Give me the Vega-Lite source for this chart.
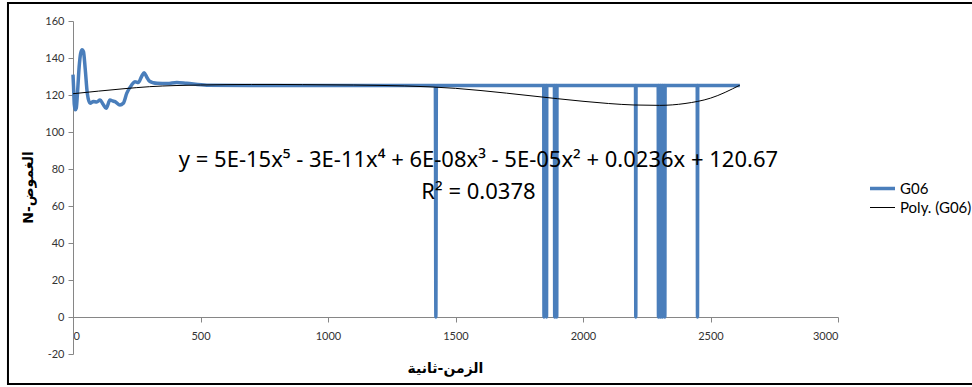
{
  "$schema": "https://vega.github.io/schema/vega-lite/v6.json",
  "width": 765,
  "height": 333,
  "autosize": {"type": "none"},
  "padding": {"left": 73, "top": 21, "right": 134, "bottom": 33},
  "background": "white",
  "config": {
    "view": {"stroke": null},
    "font": "Lato",
    "axis": {"grid": false, "domainColor": "#868686", "tickColor": "#868686", "labelColor": "#333333", "labelFont": "Lato", "labelFontSize": 11, "labelOverlap": false, "labelExpr": "toString(datum.value)", "titleColor": "black", "titleFont": "DejaVu Sans", "titleFontWeight": "bold", "titleFontSize": 14}
  },
  "datasets": {
    "g06": [
      {"t": 0, "v": 131}, {"t": 2, "v": 125}, {"t": 5, "v": 115}, {"t": 9, "v": 112}, {"t": 13, "v": 113},
      {"t": 18, "v": 122}, {"t": 24, "v": 135}, {"t": 30, "v": 142.5}, {"t": 36, "v": 144.5}, {"t": 41, "v": 143.5},
      {"t": 48, "v": 134}, {"t": 56, "v": 121}, {"t": 67, "v": 115.5}, {"t": 80, "v": 116.5}, {"t": 93, "v": 116.2},
      {"t": 106, "v": 117.3}, {"t": 118, "v": 115}, {"t": 130, "v": 112.8}, {"t": 145, "v": 117.3}, {"t": 155, "v": 116.8},
      {"t": 165, "v": 116.4}, {"t": 184, "v": 114.6}, {"t": 197, "v": 115.5}, {"t": 211, "v": 121}, {"t": 230, "v": 125.4},
      {"t": 243, "v": 127.2}, {"t": 256, "v": 126.7}, {"t": 270, "v": 130.3}, {"t": 279, "v": 132}, {"t": 290, "v": 129.5},
      {"t": 300, "v": 127.5}, {"t": 315, "v": 126.6}, {"t": 330, "v": 126.3}, {"t": 370, "v": 126.2}, {"t": 407, "v": 126.8},
      {"t": 446, "v": 126.3}, {"t": 525, "v": 125.3}, {"t": 700, "v": 125.1}, {"t": 1000, "v": 125.2},
      {"t": 1421, "v": 125.2}, {"t": 1423, "v": 0}, {"t": 1425, "v": 125.2},
      {"t": 1846, "v": 125.2}, {"t": 1847, "v": 0}, {"t": 1848, "v": 125.2},
      {"t": 1856, "v": 125.2}, {"t": 1857, "v": 0}, {"t": 1858, "v": 125.2},
      {"t": 1888, "v": 125.2}, {"t": 1889, "v": 0}, {"t": 1890, "v": 125.2},
      {"t": 1896, "v": 125.2}, {"t": 1897, "v": 0}, {"t": 1898, "v": 125.2},
      {"t": 2206, "v": 125.2}, {"t": 2207, "v": 0}, {"t": 2208, "v": 125.2},
      {"t": 2295, "v": 125.2}, {"t": 2296, "v": 0}, {"t": 2297, "v": 125.2},
      {"t": 2303, "v": 125.2}, {"t": 2304, "v": 0}, {"t": 2305, "v": 125.2},
      {"t": 2311, "v": 125.2}, {"t": 2312, "v": 0}, {"t": 2313, "v": 125.2},
      {"t": 2320, "v": 125.2}, {"t": 2321, "v": 0}, {"t": 2322, "v": 125.2},
      {"t": 2448, "v": 125.2}, {"t": 2449, "v": 0}, {"t": 2450, "v": 125.2},
      {"t": 2615, "v": 125.2}
    ],
    "poly": [
      {"t": 0, "v": 120.7}, {"t": 100, "v": 122.1}, {"t": 200, "v": 123.4}, {"t": 300, "v": 124.5}, {"t": 400, "v": 125.1},
      {"t": 500, "v": 125.4}, {"t": 600, "v": 125.6}, {"t": 700, "v": 125.7}, {"t": 800, "v": 125.7}, {"t": 900, "v": 125.6},
      {"t": 1000, "v": 125.5}, {"t": 1100, "v": 125.4}, {"t": 1200, "v": 125.2}, {"t": 1300, "v": 124.9}, {"t": 1400, "v": 124.4},
      {"t": 1500, "v": 123.6}, {"t": 1600, "v": 122.4}, {"t": 1700, "v": 121.0}, {"t": 1800, "v": 119.5}, {"t": 1900, "v": 118.0},
      {"t": 2000, "v": 116.6}, {"t": 2100, "v": 115.4}, {"t": 2200, "v": 114.6}, {"t": 2300, "v": 114.4}, {"t": 2400, "v": 115.4},
      {"t": 2500, "v": 118.3}, {"t": 2615, "v": 125.3}
    ],
    "one": [{}]
  },
  "layer": [
    {
      "data": {"name": "g06"},
      "transform": [{"calculate": "'G06'", "as": "series"}],
      "mark": {"type": "line", "interpolate": "monotone"},
      "encoding": {
        "x": {"field": "t", "type": "quantitative", "scale": {"domain": [0, 3000], "nice": false},
          "axis": {"values": [0, 500, 1000, 1500, 2000, 2500, 3000], "tickCount": 20, "labelOverlap": false, "offset": -37, "tickSize": 5, "labelPadding": 8, "title": "الزمن-ثانية", "titleX": 372, "titleY": 51, "titleBaseline": "middle"}},
        "y": {"field": "v", "type": "quantitative", "scale": {"domain": [-20, 160], "nice": false},
          "axis": {"values": [-20, 0, 20, 40, 60, 80, 100, 120, 140, 160], "tickCount": 20, "labelOverlap": false, "labelBound": false, "labelFlush": false, "tickSize": 5, "labelPadding": 4, "title": "N-الغموض", "titleX": -45, "titleY": 166, "titleAngle": -90, "titleAlign": "center", "titleBaseline": "middle"}},
        "color": {"field": "series", "type": "nominal", "scale": {"domain": ["G06", "Poly. (G06)"], "range": ["#4A7EBB", "#000000"]},
          "legend": {"title": null, "orient": "none", "legendX": 795, "legendY": 158, "symbolType": "stroke", "symbolSize": 625, "clipHeight": 19, "labelFont": "Lato", "labelFontSize": 15, "labelColor": "black", "rowPadding": 0, "labelOffset": 3}},
        "strokeWidth": {"field": "series", "type": "nominal", "scale": {"domain": ["G06", "Poly. (G06)"], "range": [3.5, 1]}}
      }
    },
    {
      "data": {"name": "poly"},
      "transform": [{"calculate": "'Poly. (G06)'", "as": "series"}],
      "mark": {"type": "line", "interpolate": "monotone"},
      "encoding": {
        "x": {"field": "t", "type": "quantitative"},
        "y": {"field": "v", "type": "quantitative"},
        "color": {"field": "series", "type": "nominal"},
        "strokeWidth": {"field": "series", "type": "nominal"}
      }
    },
    {
      "data": {"name": "one"},
      "mark": {"type": "text", "font": "Noto Sans", "fontSize": 22, "color": "black", "align": "center", "baseline": "middle"},
      "encoding": {
        "x": {"datum": 1590, "type": "quantitative"},
        "y": {"datum": 84.9, "type": "quantitative"},
        "text": {"value": "y = 5E-15x⁵ - 3E-11x⁴ + 6E-08x³ - 5E-05x² + 0.0236x + 120.67"}
      }
    },
    {
      "data": {"name": "one"},
      "mark": {"type": "text", "font": "Noto Sans", "fontSize": 22, "color": "black", "align": "center", "baseline": "middle"},
      "encoding": {
        "x": {"datum": 1590, "type": "quantitative"},
        "y": {"datum": 67.6, "type": "quantitative"},
        "text": {"value": "R² = 0.0378"}
      }
    },
    {
      "data": {"name": "one"},
      "mark": {"type": "rect", "fill": null, "stroke": "black", "strokeWidth": 2},
      "encoding": {
        "x": {"datum": -255, "type": "quantitative"},
        "x2": {"datum": 3700},
        "y": {"datum": 169.7, "type": "quantitative"},
        "y2": {"datum": -36.2}
      }
    }
  ]
}
